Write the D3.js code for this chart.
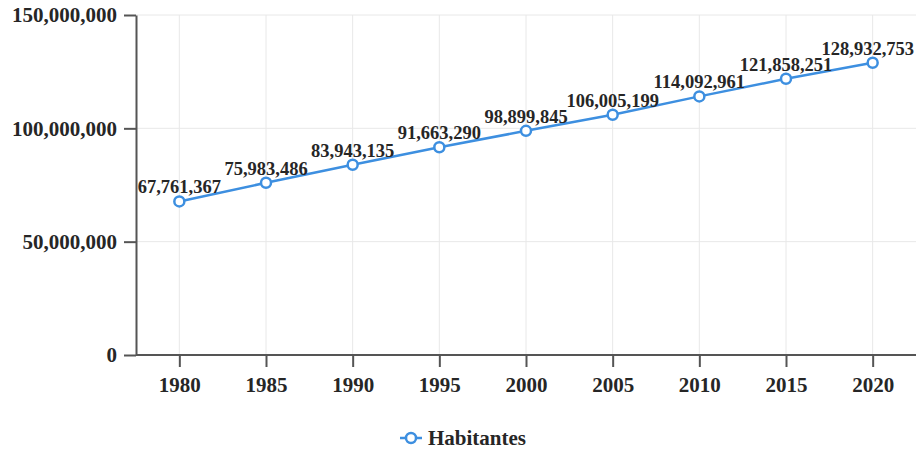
<!DOCTYPE html>
<html>
<head>
<meta charset="utf-8">
<script src="https://cdn.jsdelivr.net/npm/d3@7"></script>
<style>
	body { margin: 0; background: #fff; }
	svg { display: block; }
</style>
</head>
<body>
<div class="line-chart"></div>
<script>
var years = ['1980', '1985', '1990', '1995', '2000', '2005', '2010', '2015', '2020'];
var habitantes = [67761367, 75983486, 83943135, 91663290, 98899845, 106005199, 114092961, 121858251, 128932753];
var yTicks = [0, 50000000, 100000000, 150000000];
var seriesName = 'Habitantes';

var lineColor = '#3d8fe0',
	gridColor = '#e8e8e8',
	axisColor = '#555',
	textColor = '#262626',
	fontFamily = '"Liberation Serif", "Times New Roman", serif';

var width = 916, height = 450;
var margin = {top: 15, left: 136, bottom: 95, right: 0};

var x = d3.scalePoint().domain(years).range([margin.left, width - margin.right]).padding(0.5);
var y = d3.scaleLinear().domain([0, 150000000]).range([height - margin.bottom, margin.top]);
var fmt = d3.format(',');

var svg = d3.select('.line-chart').append('svg')
	.attr('width', width)
	.attr('height', height)
	.attr('font-family', fontFamily)
	.attr('font-weight', 'bold');

// grid lines
svg.append('g').selectAll('line.v')
	.data(years).enter().append('line')
	.attr('x1', function(d) { return x(d); })
	.attr('x2', function(d) { return x(d); })
	.attr('y1', y(150000000))
	.attr('y2', y(0))
	.attr('stroke', gridColor)
	.attr('stroke-width', 1);
svg.append('g').selectAll('line.h')
	.data(yTicks).enter().append('line')
	.attr('x1', margin.left)
	.attr('x2', width - margin.right)
	.attr('y1', function(d) { return y(d); })
	.attr('y2', function(d) { return y(d); })
	.attr('stroke', gridColor)
	.attr('stroke-width', 1);

// axes
var xAxis = svg.append('g')
	.attr('transform', 'translate(0,' + y(0) + ')')
	.call(d3.axisBottom(x).tickSize(12).tickSizeOuter(0));
var yAxis = svg.append('g')
	.attr('transform', 'translate(' + margin.left + ',0)')
	.call(d3.axisLeft(y).tickValues(yTicks).tickFormat(fmt).tickSize(12).tickSizeOuter(0));
[xAxis, yAxis].forEach(function(g) {
	g.attr('font-family', fontFamily).attr('font-weight', 'bold').attr('font-size', 21);
	g.selectAll('path, line').attr('stroke', axisColor).attr('stroke-width', 2);
	g.selectAll('text').attr('fill', textColor);
});
xAxis.select('.domain').attr('d', 'M' + margin.left + ',0H' + (width - margin.right));
xAxis.selectAll('text').attr('dy', '1.05em');
yAxis.selectAll('text').attr('x', -19);

// the series
var data = years.map(function(d, i) { return {year: d, value: habitantes[i]}; });
var line = d3.line()
	.x(function(d) { return x(d.year); })
	.y(function(d) { return y(d.value); });
svg.append('path')
	.datum(data)
	.attr('fill', 'none')
	.attr('stroke', lineColor)
	.attr('stroke-width', 2.5)
	.attr('d', line);

// value labels
var labels = svg.append('g').selectAll('text')
	.data(data).enter().append('text')
	.attr('x', function(d) { return x(d.year); })
	.attr('y', function(d) { return y(d.value) - 8; })
	.attr('text-anchor', 'middle')
	.attr('font-size', 18.5)
	.attr('fill', textColor)
	.text(function(d) { return fmt(d.value); });
labels.each(function() {
	var b = this.getBBox();
	if (b.x + b.width > width - 2) {
		d3.select(this).attr('x', +d3.select(this).attr('x') - (b.x + b.width - width + 2));
	}
});

svg.append('g').selectAll('circle')
	.data(data).enter().append('circle')
	.attr('cx', function(d) { return x(d.year); })
	.attr('cy', function(d) { return y(d.value); })
	.attr('r', 5)
	.attr('fill', '#fff')
	.attr('stroke', lineColor)
	.attr('stroke-width', 2.5);

// legend
var legend = svg.append('g').attr('transform', 'translate(400,438)');
legend.append('line')
	.attr('x1', 0).attr('x2', 22).attr('y1', 0).attr('y2', 0)
	.attr('stroke', lineColor).attr('stroke-width', 2.5);
legend.append('circle')
	.attr('cx', 11).attr('cy', 0).attr('r', 5)
	.attr('fill', '#fff').attr('stroke', lineColor).attr('stroke-width', 2.5);
legend.append('text')
	.attr('x', 28).attr('y', 7)
	.attr('font-size', 21)
	.attr('fill', textColor)
	.text(seriesName);
</script>
</body>
</html>
